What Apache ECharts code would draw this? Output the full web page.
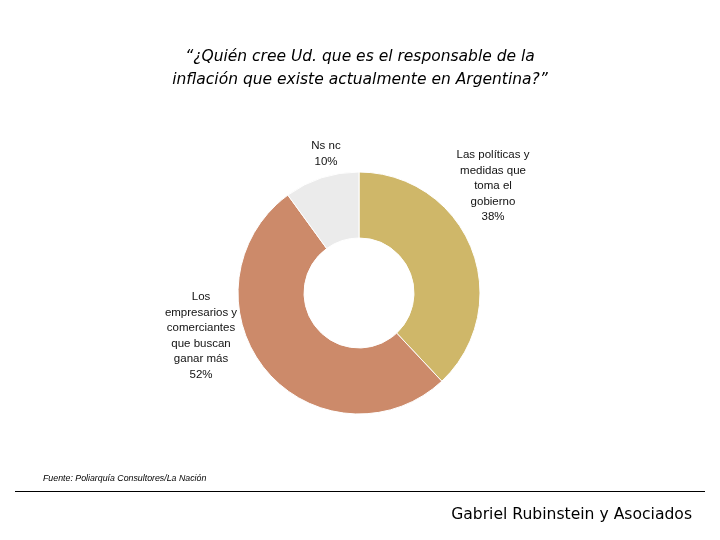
<!DOCTYPE html>
<html>
<head>
<meta charset="utf-8">
<script src="https://cdn.jsdelivr.net/npm/echarts@6/dist/echarts.min.js"></script>
<style>
  html, body { margin: 0; padding: 0; background: #fff; }
  #main { width: 720px; height: 540px; }
</style>
</head>
<body>
<div id="main"></div>
<script>
var categories = [
    'Las políticas y\nmedidas que\ntoma el\ngobierno',
    'Los\nempresarios y\ncomerciantes\nque buscan\nganar más',
    'Ns nc'
];
var values = [38, 52, 10];
var colors = ['#CFB769', '#CC8A6A', '#EBEBEB'];

// where each slice label sits (center of the text block)
var labelPos = [[493, 186], [201, 336], [326, 154]];

var myChart = echarts.init(document.getElementById('main'));

var pieData = categories.map(function (name, i) {
    return { name: name, value: values[i], itemStyle: { color: colors[i] } };
});

var option = {
    backgroundColor: '#fff',
    title: {
        text: '“¿Quién cree Ud. que es el responsable de la\ninflación que existe actualmente en Argentina?”',
        left: 'center',
        top: 40,
        textStyle: {
            fontFamily: 'DejaVu Sans, Verdana, sans-serif',
            fontStyle: 'italic',
            fontWeight: 'normal',
            fontSize: 15.5,
            lineHeight: 23,
            color: '#000'
        }
    },
    series: [{
        type: 'pie',
        center: [359, 293],
        radius: [55, 121],
        startAngle: 90,
        clockwise: true,
        silent: true,
        itemStyle: { borderColor: '#fff', borderWidth: 1 },
        label: {
            show: true,
            position: 'outside',
            formatter: function (p) { return p.name + '\n' + p.value + '%'; },
            fontFamily: 'Liberation Sans, Arial, sans-serif',
            fontSize: 11.5,
            lineHeight: 15.5,
            color: '#111',
            align: 'center'
        },
        labelLine: { show: false },
        labelLayout: function (params) {
            var p = labelPos[params.dataIndex];
            return { x: p[0], y: p[1], align: 'center', verticalAlign: 'middle' };
        },
        data: pieData
    }],
    graphic: [
        {
            type: 'text',
            left: 43,
            top: 474,
            style: {
                text: 'Fuente: Poliarquía Consultores/La Nación',
                font: 'italic 8.8px "Liberation Sans", Arial, sans-serif',
                fill: '#000'
            }
        },
        {
            type: 'line',
            shape: { x1: 15, y1: 491.5, x2: 705, y2: 491.5 },
            style: { stroke: '#000', lineWidth: 1 }
        },
        {
            type: 'text',
            right: 28,
            top: 507,
            style: {
                text: 'Gabriel Rubinstein y Asociados',
                font: '15.6px "DejaVu Sans", Verdana, sans-serif',
                fill: '#000'
            }
        }
    ]
};

myChart.setOption(option);
</script>
</body>
</html>
